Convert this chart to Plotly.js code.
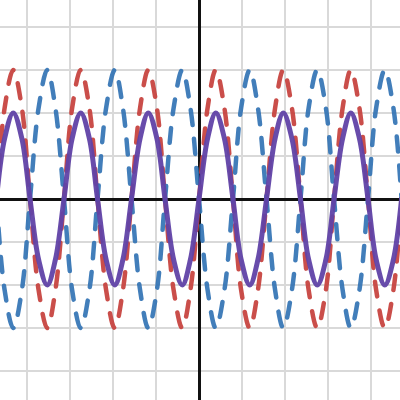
<!DOCTYPE html>
<html>
<head>
<meta charset="utf-8">
<script src="https://cdn.plot.ly/plotly-3.0.1.min.js"></script>
<style>
html,body{margin:0;padding:0;background:#fff;}
#chart{width:400px;height:400px;}
#chart .scatterlayer path.js-line{stroke-linecap:round;stroke-linejoin:round;}
</style>
</head>
<body>
<div id="chart"></div>
<script>
// Sample positions (x)
const xs = [-4.71,-4.52,-4.32,-4.12,-3.93,-3.73,-3.53,-3.34,-3.14,-2.95,-2.75,-2.55,-2.36,-2.16,-1.96,-1.77,
  -1.57,-1.37,-1.18,-0.98,-0.79,-0.59,-0.39,-0.2,0,0.2,0.39,0.59,0.79,0.98,1.18,1.37,1.57,1.77,1.96,2.16,
  2.36,2.55,2.75,2.95,3.14,3.34,3.53,3.73,3.93,4.12,4.32,4.52,4.71];
// Red dashed curve values
const redY = [0,2.12,3,2.12,0,-2.12,-3,-2.12, 0,2.12,3,2.12,0,-2.12,-3,-2.12,
  0,2.12,3,2.12,0,-2.12,-3,-2.12, 0,2.12,3,2.12,0,-2.12,-3,-2.12,
  0,2.12,3,2.12,0,-2.12,-3,-2.12, 0,2.12,3,2.12,0,-2.12,-3,-2.12, 0];
// Blue dashed curve values
const blueY = [0,-2.12,-3,-2.12,0,2.12,3,2.12, 0,-2.12,-3,-2.12,0,2.12,3,2.12,
  0,-2.12,-3,-2.12,0,2.12,3,2.12, 0,-2.12,-3,-2.12,0,2.12,3,2.12,
  0,-2.12,-3,-2.12,0,2.12,3,2.12, 0,-2.12,-3,-2.12,0,2.12,3,2.12, 0];
// Purple solid curve values
const purpleY = [0,1.41,2,1.41,0,-1.41,-2,-1.41, 0,1.41,2,1.41,0,-1.41,-2,-1.41,
  0,1.41,2,1.41,0,-1.41,-2,-1.41, 0,1.41,2,1.41,0,-1.41,-2,-1.41,
  0,1.41,2,1.41,0,-1.41,-2,-1.41, 0,1.41,2,1.41,0,-1.41,-2,-1.41, 0];

const traces = [
  {x: xs, y: redY, mode: 'lines', line: {color: '#c74440', width: 4.5, dash: '15px,14px', shape: 'spline', smoothing: 1}, opacity: 0.95, hoverinfo: 'skip'},
  {x: xs, y: blueY, mode: 'lines', line: {color: '#2d70b3', width: 4.5, dash: '15px,14px', shape: 'spline', smoothing: 1}, opacity: 0.9, hoverinfo: 'skip'},
  {x: xs, y: purpleY, mode: 'lines', line: {color: '#6042a6', width: 5, shape: 'spline', smoothing: 1}, opacity: 0.95, hoverinfo: 'skip'}
];

const axisCommon = {
  dtick: 1, tick0: 0, showticklabels: false, ticks: '',
  showgrid: true, gridcolor: '#d9d9d9', gridwidth: 1.5,
  zeroline: true, zerolinecolor: '#111', zerolinewidth: 3,
  showline: false, fixedrange: true
};

const layout = {
  width: 400, height: 400,
  margin: {l: 0, r: 0, t: 0, b: 0},
  paper_bgcolor: '#fff', plot_bgcolor: '#fff',
  showlegend: false,
  xaxis: Object.assign({}, axisCommon, {range: [-4.628, 4.674]}),
  yaxis: Object.assign({}, axisCommon, {range: [-4.674, 4.628]})
};

Plotly.newPlot('chart', traces, layout, {staticPlot: true, displayModeBar: false});
</script>
</body>
</html>
